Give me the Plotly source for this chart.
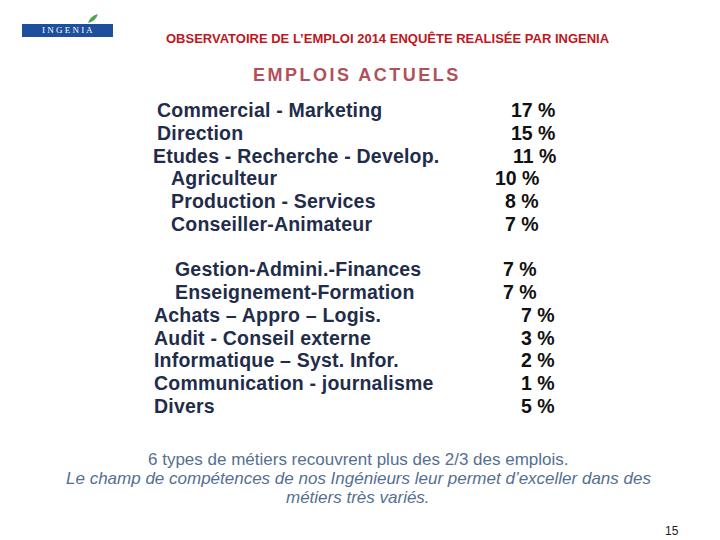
import plotly.graph_objects as go

W, H = 720, 540

header = "OBSERVATOIRE DE L\u2019EMPLOI 2014 ENQU\u00caTE REALIS\u00c9E PAR INGENIA"
title = "EMPLOIS ACTUELS"

cats_top = ["Commercial - Marketing", "Direction", "Etudes - Recherche - Develop.",
            "Agriculteur", "Production - Services", "Conseiller-Animateur"]
vals_top = [17, 15, 11, 10, 8, 7]

cats_bot = ["Gestion-Admini.-Finances", "Enseignement-Formation", "Achats \u2013 Appro \u2013 Logis.",
            "Audit - Conseil externe", "Informatique \u2013 Syst. Infor.",
            "Communication - journalisme", "Divers"]
vals_bot = [7, 7, 7, 3, 2, 1, 5]

note1 = "6 types de m\u00e9tiers recouvrent plus des 2/3 des emplois."
note2 = "Le champ de comp\u00e9tences de nos Ing\u00e9nieurs leur permet d\u2019exceller dans des"
note3 = "m\u00e9tiers tr\u00e8s vari\u00e9s."
page = "15"

# layout positions (pixels)
top_y = [110, 133, 156, 178, 201, 224]
top_lx = [155, 155, 151, 169, 169, 169]
top_rx = [557, 557, 558, 541, 541, 541]
bot_y = [269, 292, 315, 338, 360, 383, 406]
bot_lx = [173, 173, 152, 152, 152, 152, 152]
bot_rx = [539, 539, 557, 557, 557, 557, 557]

def px(x):
    return x / W

def py(y):
    return 1 - y / H

fig = go.Figure()
ann = []
TXT = "#1F2D4A"
FONT = "Liberation Sans, Arial, sans-serif"

def add(text, x, y, size, color, xanchor="left", bold=True, italic=False, family=FONT, ls=None):
    t = text
    if ls is not None:
        t = f'<span style="letter-spacing:{ls}px">' + t + "</span>"
    if bold:
        t = "<b>" + t + "</b>"
    if italic:
        t = "<i>" + t + "</i>"
    ann.append(dict(text=t, x=px(x), y=py(y), xref="paper", yref="paper",
                    xanchor=xanchor, yanchor="middle", showarrow=False,
                    font=dict(size=size, color=color, family=family)))

add(header, 388, 39, 13, "#C0161E", xanchor="center",
    family="Liberation Sans Narrow, Liberation Sans, Arial")
add(title, 357, 75, 18, "#B2505A", xanchor="center", ls=2.5)

for c, v, y, lx, rx in zip(cats_top, vals_top, top_y, top_lx, top_rx):
    add(c, lx, y, 19.5, TXT, ls=0.2)
    add(f"{v} %", rx, y, 19.5, "#111111", xanchor="right")
for c, v, y, lx, rx in zip(cats_bot, vals_bot, bot_y, bot_lx, bot_rx):
    add(c, lx, y, 19.5, TXT, ls=0.2)
    add(f"{v} %", rx, y, 19.5, "#111111", xanchor="right")

add(note1, 358, 459, 17, "#556F92", xanchor="center", bold=False)
add(note2, 358, 478, 17, "#556F92", xanchor="center", bold=False, italic=True)
add(note3, 358, 497, 17, "#556F92", xanchor="center", bold=False, italic=True)
add(page, 672, 531, 12, "#222222", xanchor="center", bold=False)

# logo
ann.append(dict(text="I N G E N I A", x=px(67.5), y=py(30.5), xref="paper", yref="paper",
                xanchor="center", yanchor="middle", showarrow=False,
                font=dict(size=9, color="white", family="Liberation Serif, serif")))

shapes = [
    dict(type="rect", xref="paper", yref="paper", x0=px(22), x1=px(113), y0=py(37), y1=py(24),
         fillcolor="#1D4F9C", line=dict(width=0), layer="below"),
    dict(type="path", xref="paper", yref="paper",
         path=f"M {px(88)},{py(23)} Q {px(90)},{py(16)} {px(98)},{py(14)} Q {px(96)},{py(21)} {px(88)},{py(23)} Z",
         fillcolor="#4CA64C", line=dict(width=0)),
]

fig.update_layout(width=W, height=H, margin=dict(l=0, r=0, t=0, b=0),
                  paper_bgcolor="white", plot_bgcolor="white",
                  xaxis=dict(visible=False), yaxis=dict(visible=False),
                  annotations=ann, shapes=shapes, showlegend=False)

fig.write_html("out.html", config={"displayModeBar": False},
               post_script="document.body.style.margin='0';")
